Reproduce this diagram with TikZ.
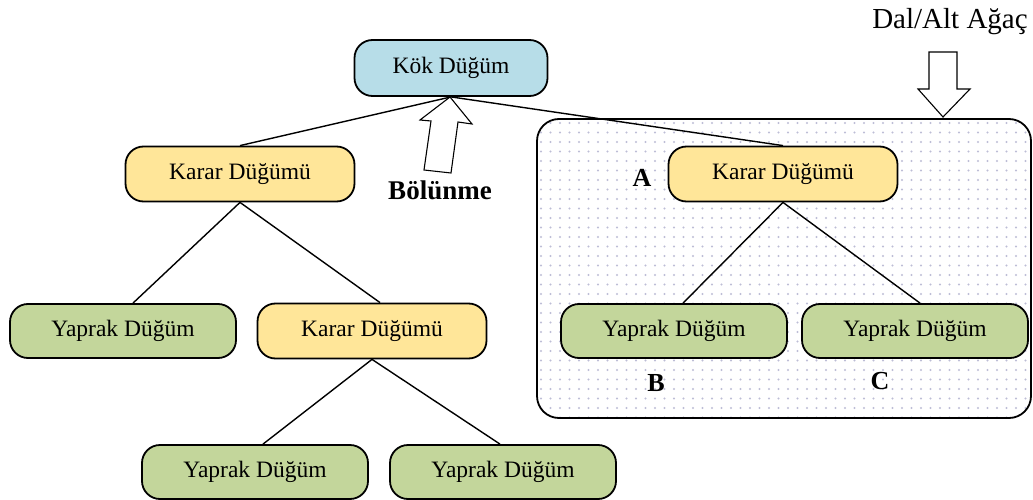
\documentclass[tikz,border=0pt]{standalone}
\usepackage{fontspec}
\setmainfont{Liberation Serif}
\begin{document}
\begin{tikzpicture}[x=1pt,y=-1pt,
  base/.style={draw=black, line width=1.8pt, rounded corners=18pt, inner sep=0pt, font=\fontsize{23.5}{26}\selectfont},
  kok/.style={base, fill=rootblue, minimum width=193pt, minimum height=56pt},
  karar/.style={base, fill=decyellow, minimum width=229pt, minimum height=55pt},
  yaprak/.style={base, fill=leafgreen, minimum width=226pt, minimum height=54pt},
  conn/.style={line width=1.4pt},
  lbl/.style={font=\fontsize{26}{30}\selectfont\bfseries},
  hollow/.style={draw=black, line width=1.1pt, fill=white}]
\definecolor{rootblue}{HTML}{B7DDE8}
\definecolor{decyellow}{HTML}{FFE699}
\definecolor{leafgreen}{HTML}{C3D69B}
\definecolor{dotcol}{HTML}{BDBDD6}
\useasboundingbox (0,0) rectangle (1033,500);
% subtree box with dots
\begin{scope}
  \clip[rounded corners=22pt] (537,119) rectangle (1031,418);
  \fill[white] (537,119) rectangle (1031,418);
  \foreach \i in {0,...,52} {
    \foreach \j in {0,...,31} {
      \fill[dotcol] (541+\i*9.5,123+\j*9.5) circle (1.1pt);
    }
  }
\end{scope}
\draw[line width=1.8pt, rounded corners=22pt] (537,119) rectangle (1031,418);
% nodes
\node[kok] (root) at (451,68) {Kök Düğüm};
\node[karar] (k1) at (240,174) {Karar Düğümü};
\node[karar] (k3) at (783,174) {Karar Düğümü};
\node[yaprak] (y1) at (123,331) {Yaprak Düğüm};
\node[karar] (k2) at (372,331) {Karar Düğümü};
\node[yaprak] (y2) at (255,472) {Yaprak Düğüm};
\node[yaprak] (y3) at (503,472) {Yaprak Düğüm};
\node[yaprak] (yb) at (674,331) {Yaprak Düğüm};
\node[yaprak] (yc) at (915,331) {Yaprak Düğüm};
% connectors
\draw[conn] (root.south) -- (k1.north);
\draw[conn] (root.south) -- (k3.north);
\draw[conn] (k1.south) -- ([xshift=10pt]y1.north);
\draw[conn] (k1.south) -- ([xshift=8pt]k2.north);
\draw[conn] (k2.south) -- ([xshift=8pt]y2.north);
\draw[conn] (k2.south) -- ([xshift=-3pt]y3.north);
\draw[conn] (k3.south) -- ([xshift=9pt]yb.north);
\draw[conn] (k3.south) -- ([xshift=5pt]yc.north);
% labels
\node[lbl] (la) at (642,178) {A};
\node[lbl] (lb) at (656,383) {B};
\node[lbl] (lc) at (880,381) {C};
\node[font=\fontsize{27}{30}\selectfont\bfseries] (bol) at (440,190) {Bölünme};
\node[font=\fontsize{29}{32}\selectfont] (dal) at (950,22) {Dal/Alt Ağaç};
% hollow arrows
\draw[hollow] (450,97) -- (472,124) -- (458,122) -- (451,173) -- (424,170) -- (431,121) -- (420,120) -- cycle;
\draw[hollow] (929,52) -- (957,52) -- (957,89) -- (970,89) -- (943,117) -- (918,89) -- (929,89) -- cycle;
\end{tikzpicture}
\end{document}
